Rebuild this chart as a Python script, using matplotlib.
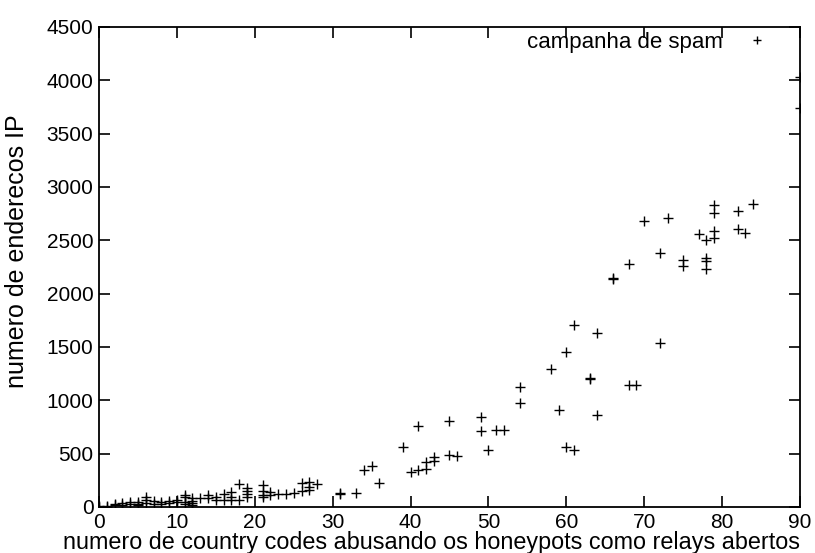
import numpy as np
import matplotlib
matplotlib.use("Agg")
import matplotlib.pyplot as plt

plt.rcParams['font.family'] = ['Liberation Sans', 'DejaVu Sans']

# country codes (x) vs number of IP addresses (y)
country_codes = [0, 0, 1, 1, 2, 2, 3, 3, 4, 4, 5, 5, 5, 6, 6, 6, 7, 7, 8, 8,
                 9, 9, 10, 10, 11, 11, 11, 11, 12, 12, 12, 12,
                 13, 14, 14, 15, 15, 16, 16, 17, 17, 17, 18, 18,
                 19, 19, 19, 19, 21, 21, 21, 21, 22, 22, 23, 24, 25,
                 26, 26, 27, 27, 27, 28, 31, 31, 33, 34, 35, 36,
                 39, 40, 41, 41, 42, 42, 43, 43, 45, 45, 46,
                 49, 49, 50, 51, 52, 54, 54, 58, 59, 60, 60, 61, 61,
                 63, 63, 64, 64, 66, 66, 68, 68, 69, 70, 72, 72, 73,
                 75, 75, 77, 78, 78, 78, 78, 79, 79, 79, 79,
                 82, 82, 83, 84, 90, 90]
ip_addresses = [0, 5, 10, 3, 15, 25, 20, 35, 25, 45, 30, 50, 15, 40, 70, 95, 30, 60, 25, 45,
                35, 55, 45, 70, 50, 90, 110, 30, 40, 60, 80, 20,
                82, 112, 82, 97, 66, 122, 66, 143, 91, 66, 213, 66,
                181, 150, 119, 97, 206, 153, 112, 91, 143, 112, 122, 122, 134,
                228, 150, 237, 190, 159, 216, 128, 120, 134, 344, 384, 222,
                565, 325, 350, 756, 422, 359, 469, 428, 484, 809, 475,
                847, 709, 534, 719, 719, 1125, 972, 1297, 909, 1456, 563, 1709, 531,
                1200, 1205, 1628, 862, 2141, 2145, 2275, 1144, 1144, 2684, 2384, 1535, 2706,
                2319, 2263, 2556, 2500, 2338, 2306, 2231, 2831, 2753, 2584, 2522,
                2775, 2606, 2572, 2844, 4034, 3738]

fig = plt.figure(figsize=(8.15, 5.53), dpi=100)
ax = fig.add_axes([0.1215, 0.0832, 0.8600, 0.8680])

ax.plot(country_codes, ip_addresses, linestyle='none', marker='+', color='black',
        markersize=6.5, markeredgewidth=1.0, label='campanha de spam')

ax.set_xlim(0, 90)
ax.set_ylim(0, 4500)
ax.set_xticks(np.arange(0, 91, 10))
ax.set_yticks(np.arange(0, 4501, 500))
ax.tick_params(direction='in', length=8, width=1.2, top=True, right=True,
               labelsize=15, pad=4)
for s in ax.spines.values():
    s.set_linewidth(1.3)

ax.set_xlabel('numero de country codes abusando os honeypots como relays abertos',
              fontsize=16.8)
ax.xaxis.set_label_coords(0.474, -0.05)
ax.set_ylabel('numero de enderecos IP', fontsize=18)
ax.yaxis.set_label_coords(-0.1, 0.533)

ax.legend(loc='upper right', frameon=False, markerfirst=False, fontsize=16,
          handlelength=1.5, borderaxespad=0, bbox_to_anchor=(0.975, 1.008),
          markerscale=0.85)

fig.savefig('out.png', dpi=100)
